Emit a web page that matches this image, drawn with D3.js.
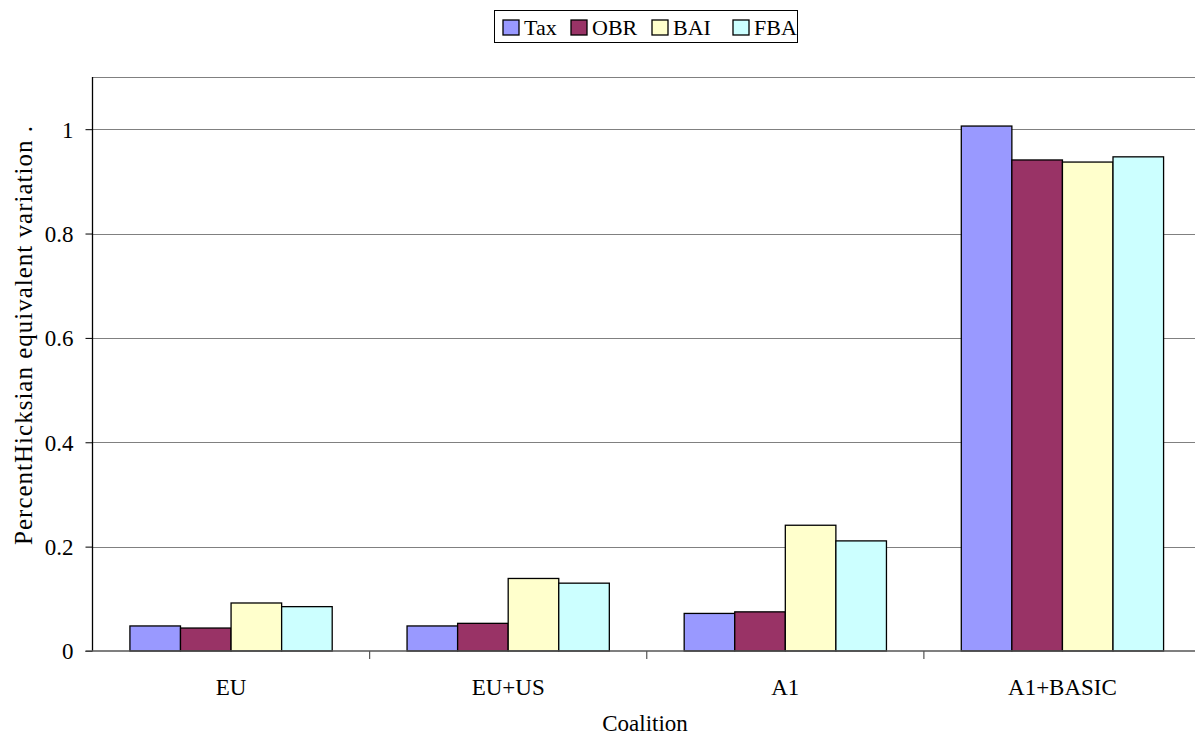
<!DOCTYPE html>
<html><head><meta charset="utf-8">
<script src="https://cdnjs.cloudflare.com/ajax/libs/d3/7.8.5/d3.min.js"></script>
<style>body{margin:0;background:#fff;}svg{display:block;} text{font-family:'Liberation Serif';}</style>
</head><body><svg id="c" width="1195" height="736"></svg>
<script>
const categories = ["EU", "EU+US", "A1", "A1+BASIC"];
const seriesNames = ["Tax", "OBR", "BAI", "FBA"];
const seriesColors = ["#9999FF", "#993366", "#FFFFCC", "#CCFFFF"];
const tax = [0.048, 0.048, 0.072, 1.006];
const obr = [0.044, 0.053, 0.075, 0.941];
const bai = [0.092, 0.139, 0.241, 0.937];
const fba = [0.085, 0.130, 0.211, 0.947];
const yTicks = [0, 0.2, 0.4, 0.6, 0.8, 1];
const series = [tax, obr, bai, fba];
const FONT = "'Liberation Serif'";
const FS = 23;

const svg = d3.select("#c");
const m = {left: 92.5, right: 1201, top: 77, bottom: 651};
const x0 = d3.scaleBand().domain(categories).range([m.left, m.right]).paddingInner(0).paddingOuter(0);
const x1 = d3.scaleBand().domain(seriesNames).range([0, x0.bandwidth()]).paddingOuter(0.74).paddingInner(0);
const y = d3.scaleLinear().domain([0, 1.1]).range([m.bottom, m.top]);

// gridlines
svg.append("g").selectAll("line").data(yTicks.filter(d => d > 0).concat([1.1])).join("line")
  .attr("x1", m.left).attr("x2", m.right)
  .attr("y1", d => Math.round(y(d)) + 0.5).attr("y2", d => Math.round(y(d)) + 0.5)
  .attr("stroke", "#808080").attr("stroke-width", 1);

// bars
const g = svg.append("g");
series.forEach((vals, si) => {
  g.append("g").selectAll("rect").data(vals).join("rect")
    .attr("x", (d, i) => x0(categories[i]) + x1(seriesNames[si]))
    .attr("y", d => y(d))
    .attr("width", x1.bandwidth())
    .attr("height", d => y(0) - y(d))
    .attr("fill", seriesColors[si])
    .attr("stroke", "#000").attr("stroke-width", 1.3);
});

// y axis
const ya = d3.axisLeft(y).tickValues(yTicks).tickSize(7).tickPadding(12).tickFormat(d => d === 0 ? "0" : String(d));
const yg = svg.append("g").attr("transform", `translate(${m.left},0)`).call(ya).attr("font-family", FONT);
yg.select(".domain").attr("d", `M0,${m.top}V${m.bottom}`).attr("stroke", "#000").attr("stroke-width", 1.3);
yg.selectAll(".tick line").attr("stroke", "#000");
yg.selectAll("text").attr("font-size", FS).attr("font-family", FONT).attr("fill", "#000").attr("dy", "0.34em");

// x axis
svg.append("line").attr("x1", m.left - 7).attr("x2", m.right).attr("y1", m.bottom).attr("y2", m.bottom)
  .attr("stroke", "#555").attr("stroke-width", 1.5);
svg.append("g").selectAll("line").data(categories.slice(1)).join("line")
  .attr("x1", d => x0(d)).attr("x2", d => x0(d))
  .attr("y1", m.bottom).attr("y2", m.bottom + 8).attr("stroke", "#555").attr("stroke-width", 1.2);
svg.append("g").selectAll("text").data(categories).join("text")
  .attr("x", d => x0(d) + x0.bandwidth() / 2).attr("y", 695)
  .attr("text-anchor", "middle").attr("font-size", FS).attr("font-family", FONT).text(d => d);

// axis titles
svg.append("text").attr("x", 645).attr("y", 731).attr("text-anchor", "middle").attr("font-size", FS)
  .attr("font-family", FONT).text("Coalition");
svg.append("text").attr("transform", "translate(32,335) rotate(-90)").attr("text-anchor", "middle")
  .attr("font-size", 25).attr("letter-spacing", "1px").attr("font-family", FONT)
  .text("PercentHicksian equivalent variation .");

// legend
const lg = svg.append("g");
lg.append("rect").attr("x", 494.5).attr("y", 10.5).attr("width", 303).attr("height", 32)
  .attr("fill", "#fff").attr("stroke", "#000").attr("stroke-width", 1);
const lx = [503, 571, 652, 733];
seriesNames.forEach((n, i) => {
  lg.append("rect").attr("x", lx[i]).attr("y", 20).attr("width", 16).attr("height", 15)
    .attr("fill", seriesColors[i]).attr("stroke", "#000").attr("stroke-width", 1.3);
  lg.append("text").attr("x", lx[i] + 21).attr("y", 35).attr("font-size", 22).attr("font-family", FONT).text(n);
});
</script></body></html>
